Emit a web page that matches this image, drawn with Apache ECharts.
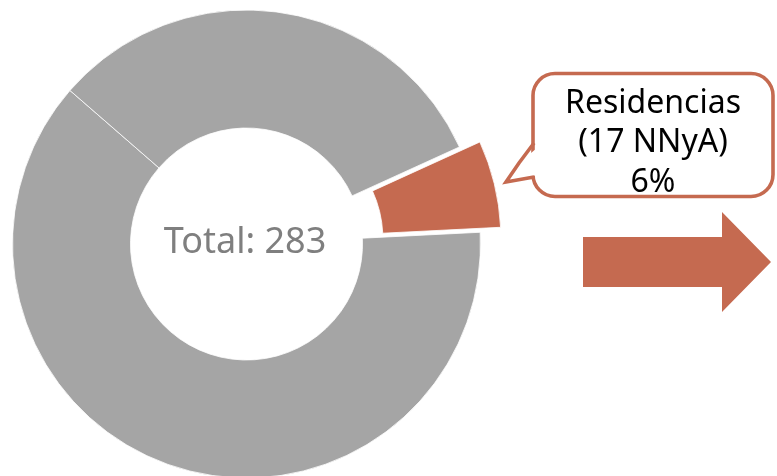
<!DOCTYPE html>
<html>
<head>
<meta charset="utf-8">
<script src="https://cdn.jsdelivr.net/npm/echarts@6/dist/echarts.min.js"></script>
<style>
    html, body { margin: 0; padding: 0; background: #fff; }
    #chart { width: 777px; height: 476px; }
</style>
</head>
<body>
<div id="chart"></div>
<script>
    // datos del gráfico
    const names = ['Residencias', 'Grupo 2', 'Grupo 3']
    const values = [17, 176, 90]
    const colors = ['#C56A50', '#A5A5A5', '#A5A5A5']
    const unit = 'NNyA'

    const total = values.reduce((a, b) => a + b, 0)
    const orange = '#C56A50'
    const myChart = echarts.init(document.getElementById('chart'))

    // texto del rótulo de la porción destacada
    const calloutText = names[0] + '\n(' + values[0] + ' ' + unit + ')\n' + Math.round(values[0] / total * 100) + '%'

    const option = {
        animation: false,
        graphic: [
            // globo del rótulo
            {
                type: 'rect',
                z: 1,
                shape: { x: 533, y: 73.5, width: 240, height: 123, r: 22 },
                style: { fill: '#fff', stroke: orange, lineWidth: 3.6 }
            },
            {
                type: 'polygon',
                z: 1,
                shape: { points: [[537, 148], [519, 163], [506, 182], [537, 175]] },
                style: { fill: '#fff' }
            },
            {
                type: 'polyline',
                z: 1,
                shape: { points: [[534, 143], [519, 163], [506, 182], [534, 177]] },
                style: { fill: null, stroke: orange, lineWidth: 3.6, lineJoin: 'miter' }
            },
            {
                type: 'text',
                z: 10,
                x: 653,
                y: 143,
                style: {
                    text: calloutText,
                    fill: '#000',
                    fontSize: 32,
                    lineHeight: 39.5,
                    fontFamily: 'Noto Sans',
                    align: 'center',
                    verticalAlign: 'middle'
                }
            },
            // flecha
            {
                type: 'polygon',
                z: 1,
                shape: { points: [[583, 237], [722, 237], [722, 212], [771, 262], [722, 312], [722, 287], [583, 287]] },
                style: { fill: orange }
            },
            // texto central
            {
                type: 'text',
                z: 10,
                x: 245,
                y: 243,
                style: {
                    text: 'Total: ' + total,
                    fill: '#7F7F7F',
                    fontSize: 36,
                    fontFamily: 'Noto Sans',
                    align: 'center',
                    verticalAlign: 'middle'
                }
            }
        ],
        series: [
            {
                type: 'pie',
                center: [246.5, 244],
                radius: [116, 234],
                startAngle: 24.5,
                clockwise: true,
                selectedMode: 'single',
                selectedOffset: 21,
                emphasis: { disabled: true },
                itemStyle: { borderColor: '#fff', borderWidth: 0.8 },
                label: { show: false },
                labelLine: { show: false },
                data: names.map((n, i) => ({
                    name: n,
                    value: values[i],
                    selected: i === 0,
                    itemStyle: { color: colors[i] }
                }))
            }
        ]
    }
    myChart.setOption(option)
</script>
</body>
</html>
